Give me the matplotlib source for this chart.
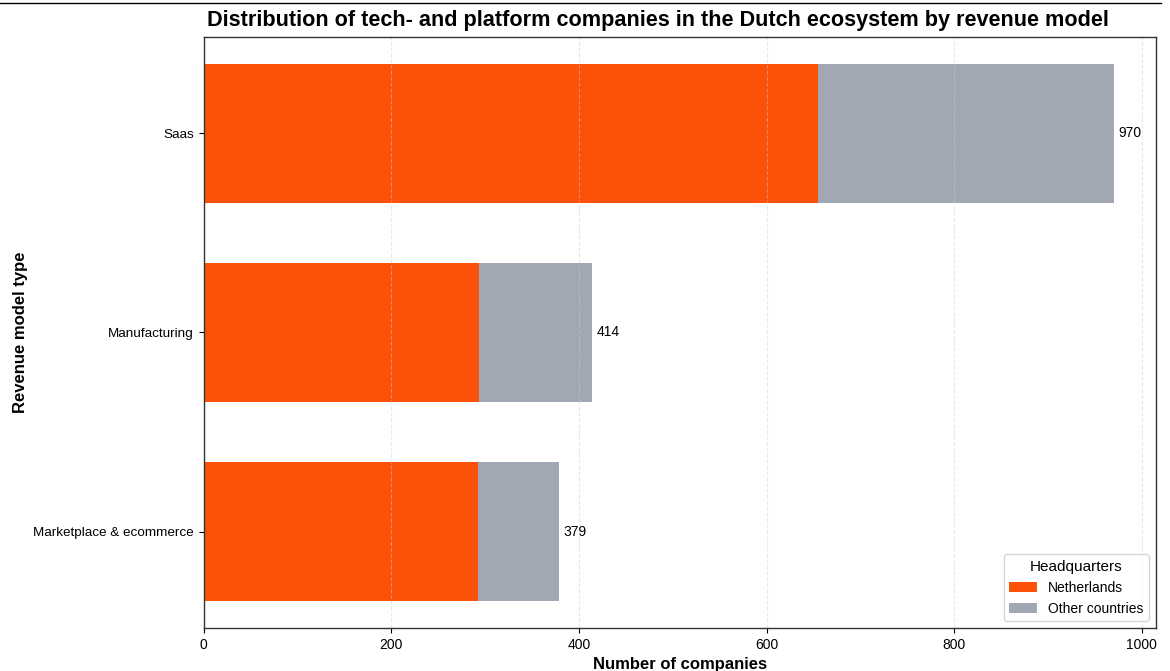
import matplotlib
matplotlib.use("Agg")
import matplotlib.pyplot as plt
from matplotlib.lines import Line2D

plt.rcParams['font.family'] = ['Liberation Sans', 'DejaVu Sans']

categories = ["Marketplace & ecommerce", "Manufacturing", "Saas"]
netherlands = [292, 293, 655]
other_countries = [87, 121, 315]
totals = [379, 414, 970]

c_nl = "#FC5108"
c_other = "#A2A8B3"

fig = plt.figure(figsize=(11.70, 6.71), dpi=100)
ax = fig.add_axes([0.174, 0.064, 0.814, 0.881])

y = list(range(len(categories)))
ax.barh(y, netherlands, height=0.7, color=c_nl, label="Netherlands")
ax.barh(y, other_countries, height=0.7, left=netherlands, color=c_other,
        label="Other countries")

for yi, t in zip(y, totals):
    ax.text(t + 5, yi, f"{t}", va="center", ha="left", fontsize=10)

ax.set_yticks(y)
ax.set_yticklabels(categories, fontsize=9.7)
ax.tick_params(axis='x', labelsize=10)
ax.set_xlim(0, 1015)

ax.set_axisbelow(False)
ax.grid(axis='x', linestyle='--', color='#cccccc', alpha=0.45, linewidth=0.8)

for s in ax.spines.values():
    s.set_color('#333333')
    s.set_linewidth(1.0)
    s.set_zorder(5)

ax.set_xlabel("Number of companies", fontsize=12, fontweight='bold')
ax.set_ylabel("Revenue model type", fontsize=12, fontweight='bold')
ax.set_title("Distribution of tech- and platform companies in the Dutch ecosystem by revenue model",
             fontsize=15.6, fontweight='bold', pad=8, x=0.477)

ax.legend(title="Headquarters", loc="lower right", fontsize=10, title_fontsize=11)

fig.add_artist(Line2D([0.0, 0.992], [0.995, 0.995], color='black', linewidth=1.0,
                      transform=fig.transFigure))

fig.savefig("out.png", dpi=100)
